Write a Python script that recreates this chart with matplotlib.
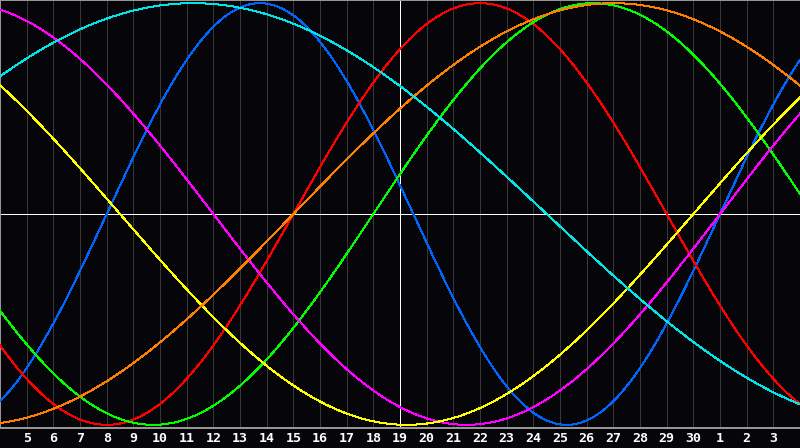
import numpy as np
import matplotlib
matplotlib.use('Agg')
import matplotlib.pyplot as plt

# Biorhythm-Zyklen: Periode (Tage) und Index des Nulldurchgangs nach oben
periods = [23, 28, 33, 38, 43, 48, 53]
start_idx = [4, 11, 14, 27, 26, 11, -6]
colors = ['#0064ff', '#ff0000', '#00ff00', '#ff00ff', '#ffff00', '#ff8000', '#00e6e6']

# Tageslabels an den Rasterlinien 1..29
day_labels = [str(d) for d in range(5, 31)] + ['1', '2', '3']
n_days = 30
today_idx = 15

bg = '#060509'
px = 0.72  # eine Pixelbreite in Punkt
fig = plt.figure(figsize=(8, 4.48), dpi=100, facecolor=bg)
ax = fig.add_axes([0, 20 / 448, 1, 428 / 448])
ax.set_facecolor(bg)

x = np.linspace(0, n_days, 1600)
for p, s, c in zip(periods, start_idx, colors):
    ax.plot(x, np.sin(2 * np.pi * (x - s) / p), color=c, lw=px,
            antialiased=False, zorder=3)

# Raster
for i in range(1, n_days):
    ax.axvline(i, color='#383838', lw=px, antialiased=False, zorder=1)
ax.axvline(today_idx, color='white', lw=px, antialiased=False, zorder=2)
ax.axhline(0, color='white', lw=px, antialiased=False, zorder=2)

ax.set_xlim(0, n_days)
ax.set_ylim(-1.015, 1.015)
ax.set_yticks([])
ax.set_xticks(range(1, n_days), day_labels)
ax.tick_params(axis='x', length=0, pad=3, colors='white')
for t in ax.get_xticklabels():
    t.set_fontweight('bold')
    t.set_family('DejaVu Sans Mono')
    t.set_fontsize(9.5)

for side in ['top', 'left', 'bottom']:
    ax.spines[side].set_color('#9a9a9a')
    ax.spines[side].set_linewidth(1.4)
ax.spines['right'].set_visible(False)

fig.savefig('out.png', dpi=100, facecolor=bg)
plt.close(fig)
